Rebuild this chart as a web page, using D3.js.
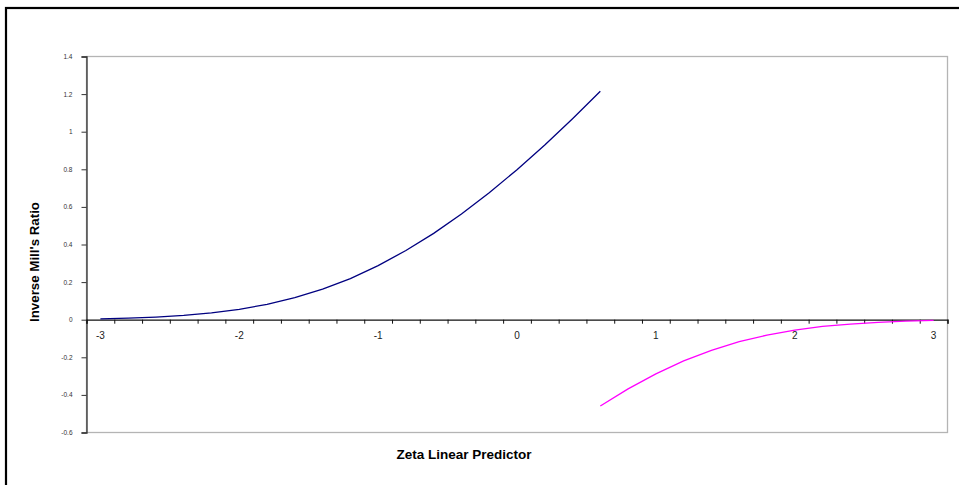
<!DOCTYPE html>
<html>
<head>
<meta charset="utf-8">
<script src="https://cdn.jsdelivr.net/npm/d3@7"></script>
<style>
  body { margin: 0; background: #fff; }
  text { font-family: Arial, "Liberation Sans", sans-serif; }
</style>
</head>
<body>
<div id="chart"></div>
<script>

// zeta categories (-3 to 3, step 0.2)
var zeta = [-3.0, -2.8, -2.6, -2.4, -2.2, -2.0, -1.8, -1.6, -1.4, -1.2, -1.0,
            -0.8, -0.6, -0.4, -0.2, 0.0, 0.2, 0.4, 0.6, 0.8, 1.0, 1.2, 1.4,
            1.6, 1.8, 2.0, 2.2, 2.4, 2.6, 2.8, 3.0];

// inverse mill's ratio, first series (z from -3 to 0.6)
var upperRatio = [0.004, 0.008, 0.014, 0.023, 0.036, 0.055, 0.082, 0.117, 0.163,
                  0.219, 0.288, 0.368, 0.459, 0.562, 0.675, 0.798, 0.929, 1.069,
                  1.215, null, null, null, null, null, null, null, null, null,
                  null, null, null];

// second series (z from 0.6 to 3)
var lowerRatio = [null, null, null, null, null, null, null, null, null, null, null,
                  null, null, null, null, null, null, null, -0.459, -0.368, -0.288,
                  -0.219, -0.163, -0.117, -0.082, -0.055, -0.036, -0.023, -0.014,
                  -0.008, -0.004];

var xTickLabels = ["-3", "-2", "-1", "0", "1", "2", "3"];
var yTicks = [-0.6, -0.4, -0.2, 0, 0.2, 0.4, 0.6, 0.8, 1, 1.2, 1.4];

var width = 959, height = 485;
var plot = {left: 86.5, right: 947.5, top: 56.5, bottom: 432.5};

var svg = d3.select("#chart").append("svg")
    .attr("width", width)
    .attr("height", height);

// outer chart border
svg.append("rect")
    .attr("x", 6).attr("y", 8)
    .attr("width", width + 20).attr("height", height + 20)
    .attr("fill", "none")
    .attr("stroke", "#000")
    .attr("stroke-width", 2.2);

// scales
var x = d3.scaleBand().domain(d3.range(zeta.length))
    .range([plot.left, plot.right]).padding(0);
var xEdge = d3.scaleLinear().domain([0, zeta.length])
    .range([plot.left, plot.right]);
var y = d3.scaleLinear().domain([-0.6, 1.4])
    .range([plot.bottom, plot.top]);

// plot area border
svg.append("rect")
    .attr("x", plot.left).attr("y", plot.top)
    .attr("width", plot.right - plot.left)
    .attr("height", plot.bottom - plot.top)
    .attr("fill", "none")
    .attr("stroke", "#b4b4b4")
    .attr("stroke-width", 1.3);

// y axis
var yAxis = svg.append("g")
    .attr("transform", "translate(" + plot.left + ",0)")
    .call(d3.axisLeft(y)
        .tickValues(yTicks)
        .tickSize(5)
        .tickPadding(9)
        .tickFormat(function(d) { return String(+d.toFixed(1)); }));
yAxis.select(".domain").attr("stroke", "#333").attr("stroke-width", 1.3);
yAxis.selectAll(".tick line").attr("stroke", "#333");
yAxis.selectAll("text")
    .attr("font-size", "6.5px")
    .attr("fill", "#333");

// x axis tick marks (category boundaries)
var xTickAxis = svg.append("g")
    .attr("transform", "translate(0," + y(0) + ")")
    .call(d3.axisBottom(xEdge)
        .tickValues(d3.range(zeta.length + 1))
        .tickSize(4)
        .tickFormat(""));
xTickAxis.select(".domain").attr("stroke", "#111").attr("stroke-width", 1.3);
xTickAxis.selectAll(".tick line").attr("stroke", "#111");

// x axis labels at category centres
var labelIdx = xTickLabels.map(function(t) {
    return zeta.findIndex(function(z) { return Math.abs(z - +t) < 1e-9; });
});
var xLabelAxis = svg.append("g")
    .attr("transform", "translate(0," + y(0) + ")")
    .call(d3.axisBottom(x)
        .tickValues(labelIdx)
        .tickSize(0)
        .tickPadding(12)
        .tickFormat(function(d, i) { return xTickLabels[i]; }));
xLabelAxis.select(".domain").remove();
xLabelAxis.selectAll("text")
    .attr("font-size", "10px")
    .attr("fill", "#222");

// lines
function seriesLine(values) {
    return d3.line()
        .defined(function(d) { return d != null; })
        .x(function(d, i) { return x(i) + x.bandwidth() / 2; })
        .y(function(d) { return y(d); })(values);
}

svg.append("path")
    .attr("d", seriesLine(upperRatio))
    .attr("fill", "none")
    .attr("stroke", "#000080")
    .attr("stroke-width", 1.3);

svg.append("path")
    .attr("d", seriesLine(lowerRatio))
    .attr("fill", "none")
    .attr("stroke", "#ff00ff")
    .attr("stroke-width", 1.3);

// axis titles
svg.append("text")
    .attr("x", 464).attr("y", 459)
    .attr("text-anchor", "middle")
    .attr("font-size", "13.5px")
    .attr("font-weight", "bold")
    .text("Zeta Linear Predictor");

svg.append("text")
    .attr("transform", "translate(38.5,262) rotate(-90)")
    .attr("text-anchor", "middle")
    .attr("font-size", "13.3px")
    .attr("font-weight", "bold")
    .text("Inverse Mill's Ratio");

</script>
</body>
</html>
